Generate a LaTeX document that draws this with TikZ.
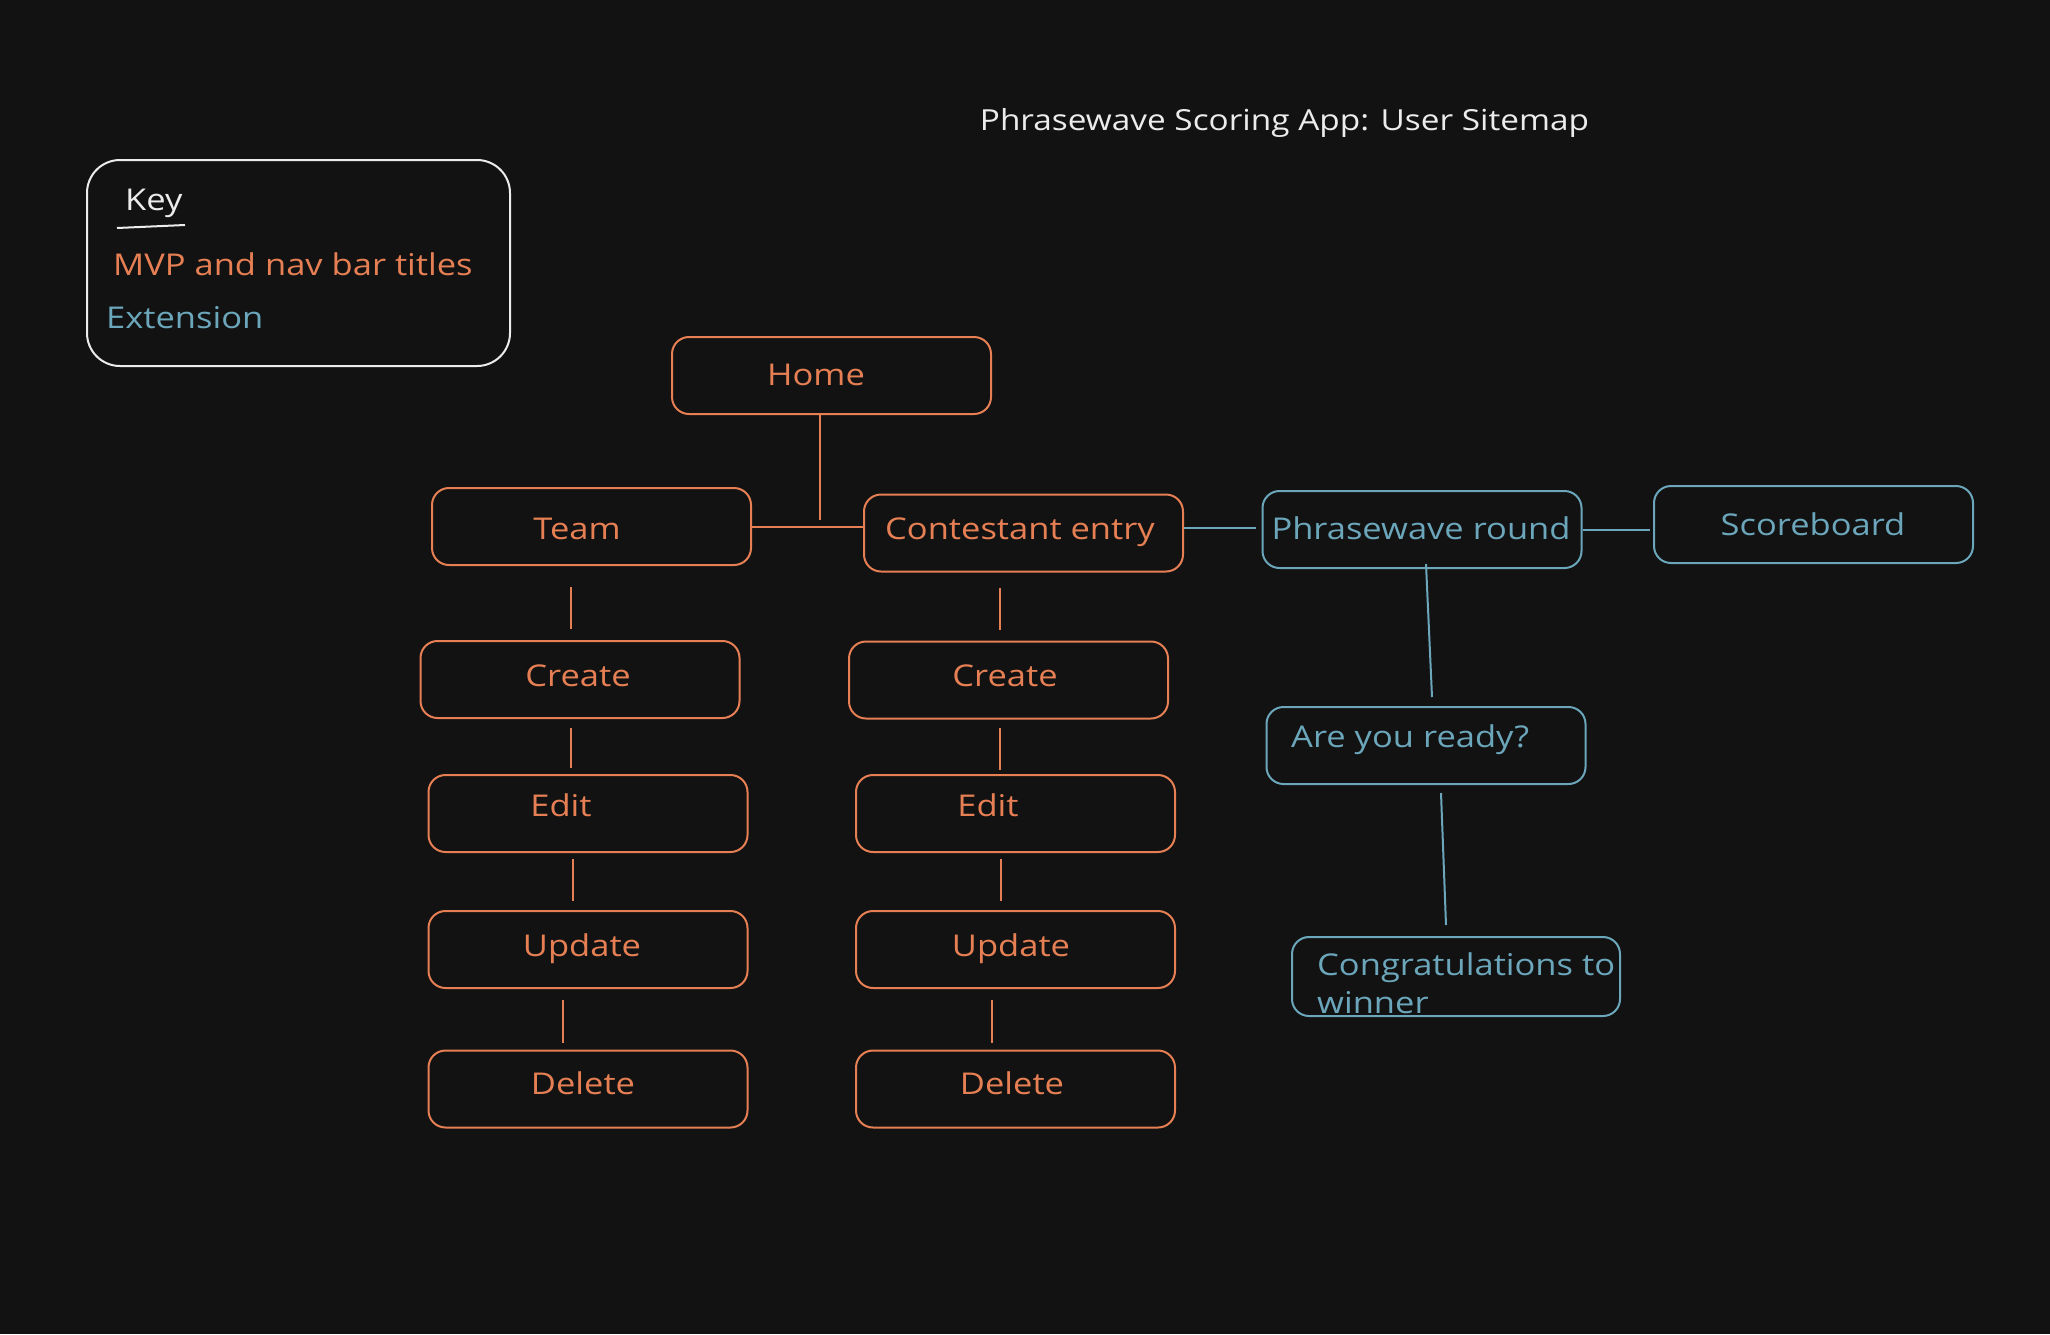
\documentclass[tikz,border=0pt]{standalone}
\usepackage{fontspec}
\setmainfont{Open Sans}[FakeStretch=1.15]
\definecolor{bg}{HTML}{121212}
\definecolor{org}{RGB}{230,128,84}
\definecolor{blu}{RGB}{107,166,187}
\definecolor{wht}{RGB}{236,236,236}
\begin{document}
\begin{tikzpicture}[x=1pt,y=-1pt,
  box/.style={draw, line width=2pt, rounded corners=17pt, minimum width=319pt, minimum height=77pt, inner sep=0pt},
  obox/.style={box, draw=org},
  bbox/.style={box, draw=blu},
  txt/.style={font=\fontsize{30}{38}\selectfont, inner sep=0pt, anchor=base},
  otxt/.style={txt, text=org},
  btxt/.style={txt, text=blu},
  oline/.style={draw=org, line width=2pt},
  bline/.style={draw=blu, line width=2pt}]
\useasboundingbox (0,0) rectangle (2050,1334);
\fill[bg] (0,0) rectangle (2050,1334);

% title
\node[txt, text=wht, font=\fontsize{29}{36}\selectfont] (title) at (1284.5,130) {Phrasewave Scoring App: User Sitemap};

% key
\node[draw=wht, line width=2pt, rounded corners=33pt, minimum width=423pt, minimum height=206pt, inner sep=0pt] (key) at (298.5,263) {};
\node[txt, text=wht, anchor=base west] (keyt) at (125,210) {Key};
\draw[wht, line width=2pt] (117,228) -- (185,225);
\node[otxt, anchor=base west] (keymvp) at (113,275) {MVP and nav bar titles};
\node[btxt, anchor=base west] (keyext) at (106,328) {Extension};

% boxes
\node[obox] (home) at (831.5,375.5) {};
\node[obox] (team) at (591.5,526.5) {};
\node[obox] (cont) at (1023.5,533) {};
\node[bbox] (phr) at (1422,529.5) {};
\node[bbox] (score) at (1813.5,524.5) {};
\node[obox] (tcreate) at (580,679.5) {};
\node[obox] (tedit) at (588,813.5) {};
\node[obox] (tupd) at (588,949.5) {};
\node[obox] (tdel) at (588,1089) {};
\node[obox] (ccreate) at (1008.5,680) {};
\node[obox] (cedit) at (1015.5,813.5) {};
\node[obox] (cupd) at (1015.5,949.5) {};
\node[obox] (cdel) at (1015.5,1089) {};
\node[bbox] (ready) at (1426,745.5) {};
\node[bbox, minimum width=328pt, minimum height=79pt] (congr) at (1456,976.5) {};

% texts
\node[otxt] (homet) at (816,385) {Home};
\node[otxt] (teamt) at (577,539) {Team};
\node[otxt] (contt) at (1020,539) {Contestant entry};
\node[btxt] (phrt) at (1421,539) {Phrasewave round};
\node[btxt] (scoret) at (1813,535) {Scoreboard};
\node[otxt] (tcreatet) at (578,686) {Create};
\node[otxt] (teditt) at (561,816) {Edit};
\node[otxt] (tupdt) at (582,956) {Update};
\node[otxt] (tdelt) at (583,1094) {Delete};
\node[otxt] (ccreatet) at (1005,686) {Create};
\node[otxt] (ceditt) at (988,816) {Edit};
\node[otxt] (cupdt) at (1011,956) {Update};
\node[otxt] (cdelt) at (1012,1094) {Delete};
\node[btxt, anchor=base west] (readyt) at (1291,747) {Are you ready?};
\node[btxt, anchor=base west] (congrt1) at (1317,975) {Congratulations to};
\node[btxt, anchor=base west] (congrt2) at (1317,1013) {winner};

% connectors
\coordinate (hj) at (820,520);
\draw[oline] ([xshift=-11.5pt]home.south) -- (hj);
\draw[oline] (team.east) -- (team.east -| cont.west);
\draw[bline, shorten >=6pt] ([yshift=5pt]cont.east) -- ([yshift=5pt]cont.east -| phr.west);
\draw[bline, shorten >=3pt] (phr.east) -- (phr.east -| score.west);

\draw[oline] ([xshift=-20.5pt,yshift=-21pt]team.south) -- ([xshift=-9pt,yshift=11pt]tcreate.north);
\draw[oline] ([xshift=-9pt,yshift=-9pt]tcreate.south) -- ([xshift=-17pt,yshift=6pt]tedit.north);
\draw[oline] ([xshift=-15pt,yshift=-6pt]tedit.south) -- ([xshift=-15pt,yshift=9pt]tupd.north);
\draw[oline] ([xshift=-25pt,yshift=-11pt]tupd.south) -- ([xshift=-25pt,yshift=7pt]tdel.north);

\draw[oline] ([xshift=-23.5pt,yshift=-15pt]cont.south) -- ([xshift=-8.5pt,yshift=11pt]ccreate.north);
\draw[oline] ([xshift=-8.5pt,yshift=-8pt]ccreate.south) -- ([xshift=-15.5pt,yshift=4pt]cedit.north);
\draw[oline] ([xshift=-14.5pt,yshift=-6pt]cedit.south) -- ([xshift=-14.5pt,yshift=9pt]cupd.north);
\draw[oline] ([xshift=-23.5pt,yshift=-11pt]cupd.south) -- ([xshift=-23.5pt,yshift=7pt]cdel.north);

\draw[bline] ([xshift=4pt,yshift=5pt]phr.south) -- ([xshift=6pt,yshift=9pt]ready.north);
\draw[bline] ([xshift=15pt,yshift=-8pt]ready.south) -- ([xshift=-10pt,yshift=11pt]congr.north);
\end{tikzpicture}
\end{document}
